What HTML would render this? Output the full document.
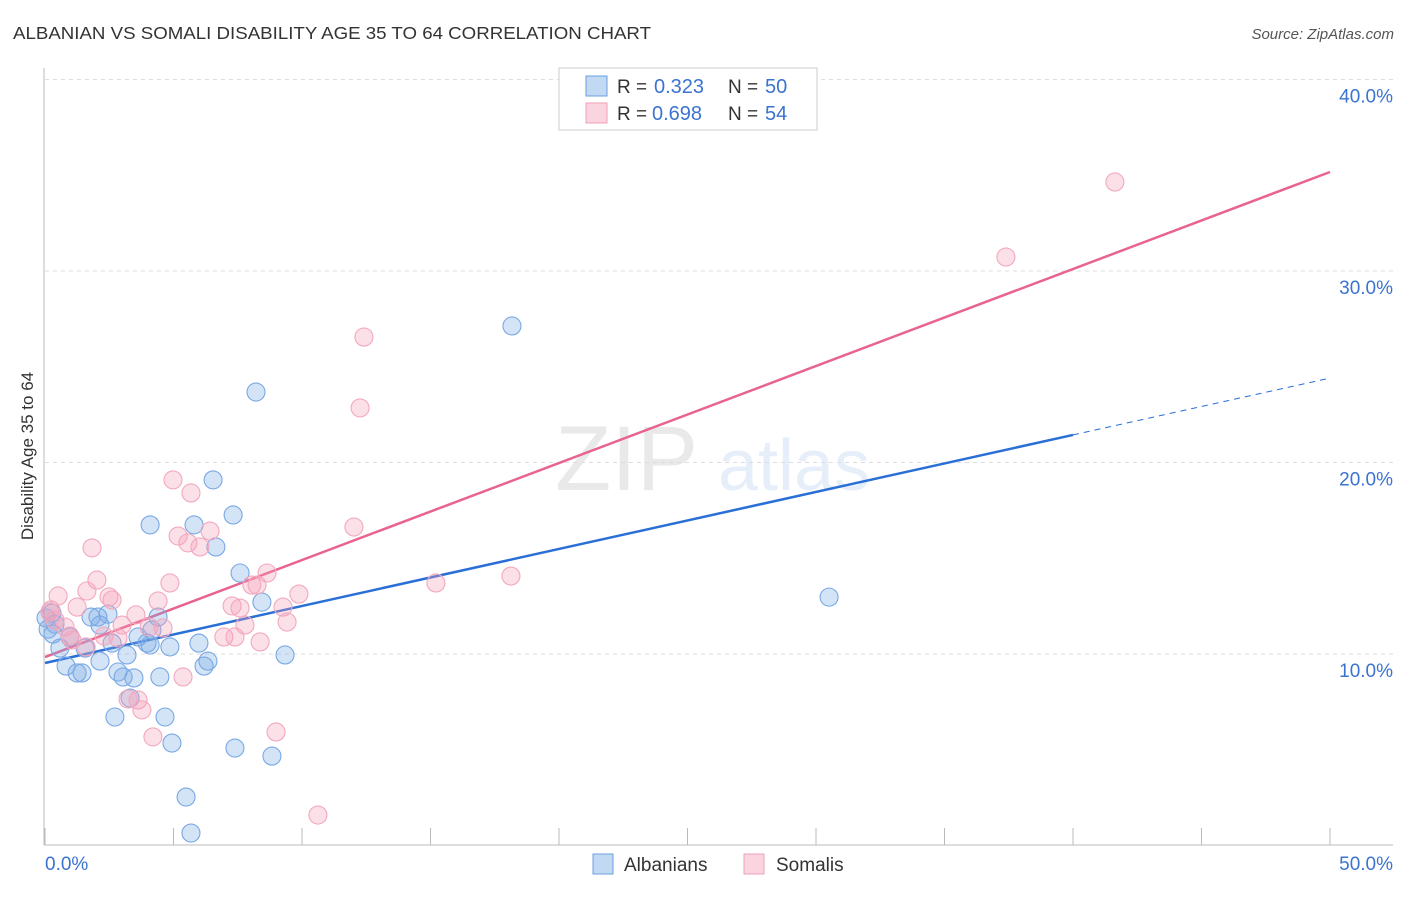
<!DOCTYPE html>
<html><head><meta charset="utf-8"><style>
body{margin:0;background:#fff;font-family:"Liberation Sans",sans-serif;}
svg text{font-family:"Liberation Sans",sans-serif;}
</style></head><body>
<svg id="chart" width="1406" height="892" viewBox="0 0 1406 892" xmlns="http://www.w3.org/2000/svg">
<text x="13" y="39" font-size="17.5" fill="#333" textLength="638" lengthAdjust="spacingAndGlyphs">ALBANIAN VS SOMALI DISABILITY AGE 35 TO 64 CORRELATION CHART</text>
<text x="1394" y="39" font-size="15" fill="#555" text-anchor="end" font-style="italic">Source: ZipAtlas.com</text>
<g opacity="0.18">
<text x="555" y="490" font-size="92" font-family="Liberation Serif" fill="#888">ZIP</text>
<text x="718" y="490" font-size="72" fill="#7aa6e0">atlas</text>
</g>
<g id="grid"></g><g id="axes"></g><g id="trend"></g><g id="pts"></g>
<text transform="translate(33,456) rotate(-90)" font-size="17" fill="#333" text-anchor="middle">Disability Age 35 to 64</text>
<g>
<rect x="559" y="68" width="258" height="62" fill="#fff" stroke="#ccc"/>
<rect x="586" y="76" width="21" height="20" fill="rgba(120,170,230,0.45)" stroke="#6a9fe0"/>
<rect x="586" y="103" width="21" height="20" fill="rgba(245,160,185,0.45)" stroke="#f0a0b8"/>
<text x="617" y="93" font-size="19" fill="#333">R = </text><text x="654" y="93" font-size="20" fill="#3b73d0">0.323</text>
<text x="728" y="93" font-size="19" fill="#333">N = </text><text x="765" y="93" font-size="20" fill="#3b73d0">50</text>
<text x="617" y="120" font-size="19" fill="#333">R = </text><text x="652" y="120" font-size="20" fill="#3b73d0">0.698</text>
<text x="728" y="120" font-size="19" fill="#333">N = </text><text x="765" y="120" font-size="20" fill="#3b73d0">54</text>
</g>
<g>
<rect x="593" y="854" width="20" height="20" fill="rgba(120,170,230,0.45)" stroke="#6a9fe0"/>
<text x="624" y="871" font-size="19" fill="#333">Albanians</text>
<rect x="744" y="854" width="20" height="20" fill="rgba(245,160,185,0.45)" stroke="#f0a0b8"/>
<text x="776" y="871" font-size="19" fill="#333">Somalis</text>
</g>
</svg>
<script>
const xTicks=[0,5,10,15,20,25,30,35,40,45,50];
const yTicks=[10,20,30,40];
const yTickLabels=["10.0%","20.0%","30.0%","40.0%"];
const blueX=[18.17,8.21,6.54,4.09,5.80,7.32,6.65,7.59,8.44,30.51,2.45,1.79,4.40,3.97,3.62,4.16,4.86,5.99,0.39,0.12,0.58,2.14,2.61,3.19,0.82,1.44,1.25,2.14,2.84,3.04,3.46,4.47,6.19,6.34,9.34,2.72,4.67,4.94,7.39,8.83,5.49,5.68,3.31,0.27,0.97,1.56,2.06,0.04,0.31,4.09];
const blueY=[27.13,23.68,19.09,16.74,16.74,17.26,15.59,14.23,12.71,12.97,12.08,11.93,11.93,10.57,10.89,11.25,10.37,10.57,11.56,11.30,10.31,11.51,10.57,9.95,9.37,9.01,9.01,9.63,9.06,8.80,8.75,8.80,9.37,9.63,9.95,6.71,6.71,5.35,5.09,4.67,2.53,0.65,7.70,12.14,10.89,10.31,11.93,11.88,11.04,10.47];
const pinkX=[41.63,37.39,12.41,12.26,12.02,4.98,5.68,5.18,5.56,6.03,6.42,1.83,2.02,1.63,0.51,1.25,2.49,4.86,4.40,3.54,8.64,8.05,8.25,7.28,7.59,9.26,9.88,9.42,7.78,6.96,7.39,8.37,15.21,18.13,0.23,0.39,0.78,0.97,2.30,2.84,3.00,4.05,4.59,3.23,3.62,3.77,4.20,5.37,8.99,10.62,1.05,0.19,1.60,2.61];
const pinkY=[34.65,30.73,26.55,22.85,16.63,19.09,18.41,16.16,15.80,15.59,16.42,15.54,13.86,13.29,13.03,12.45,12.98,13.71,12.77,12.04,14.23,13.60,13.60,12.51,12.40,12.45,13.13,11.67,11.51,10.89,10.89,10.63,13.71,14.07,12.30,11.77,11.41,10.94,10.94,10.84,11.51,11.41,11.36,7.65,7.60,7.08,5.67,8.80,5.93,1.59,10.73,12.19,10.37,12.82];
const blueTrend=[9.53,21.44,24.41]; // at x=0, 40, 50
const pinkTrend=[9.84,35.17]; // at x=0, 50
const X=v=>45+v*25.7, Y=v=>845.5-v*19.15;
const NS="http://www.w3.org/2000/svg";
function mk(p,tag,attrs){const e=document.createElementNS(NS,tag);for(const k in attrs)e.setAttribute(k,attrs[k]);p.appendChild(e);return e;}
const grid=document.getElementById('grid'),axes=document.getElementById('axes'),trend=document.getElementById('trend'),pts=document.getElementById('pts');
yTicks.forEach((t,i)=>{
 const l=mk(grid,'line',{x1:45,x2:1393,y1:Y(t),y2:Y(t),stroke:'#ddd','stroke-dasharray':'4,4'});
 
 
 const tx=mk(grid,'text',{x:1393,y:Y(t)+23,'font-size':19,fill:'#3b73d0','text-anchor':'end'});
 tx.textContent=yTickLabels[i];
 
 
});
const la=mk(axes,'line',{x1:44,x2:44,y1:68,y2:845,stroke:'#bbb'});


const ba=mk(axes,'line',{x1:44,x2:1393,y1:845,y2:845,stroke:'#bbb'});


xTicks.forEach(t=>{
 const tk=mk(axes,'line',{x1:X(t),x2:X(t),y1:828,y2:845,stroke:'#bbb'});
 
 
});
const x0=mk(axes,'text',{x:45,y:870,'font-size':19,fill:'#3b73d0'});x0.textContent=xTicks[0].toFixed(1)+'%';


const x1=mk(axes,'text',{x:1393,y:870,'font-size':19,fill:'#3b73d0','text-anchor':'end'});x1.textContent=xTicks[xTicks.length-1].toFixed(1)+'%';


const bt=mk(trend,'line',{x1:X(0),y1:Y(blueTrend[0]),x2:X(40),y2:Y(blueTrend[1]),stroke:'#2a6fd6','stroke-width':2.5});


const bd=mk(trend,'line',{x1:X(40),y1:Y(blueTrend[1]),x2:X(50),y2:Y(blueTrend[2]),stroke:'#2a6fd6','stroke-width':1,'stroke-dasharray':'6,5'});


const pt=mk(trend,'line',{x1:X(0),y1:Y(pinkTrend[0]),x2:X(50),y2:Y(pinkTrend[1]),stroke:'#e8638f','stroke-width':2.5});


blueX.forEach((v,i)=>{
 const c=mk(pts,'circle',{cx:X(v),cy:Y(blueY[i]),r:9,fill:'rgba(120,170,230,0.32)',stroke:'#79a8e4','stroke-width':1.1});
 
 
});
pinkX.forEach((v,i)=>{
 const c=mk(pts,'circle',{cx:X(v),cy:Y(pinkY[i]),r:9,fill:'rgba(245,160,185,0.32)',stroke:'#f2a8be','stroke-width':1.1});
 
 
});
</script>
</body></html>
